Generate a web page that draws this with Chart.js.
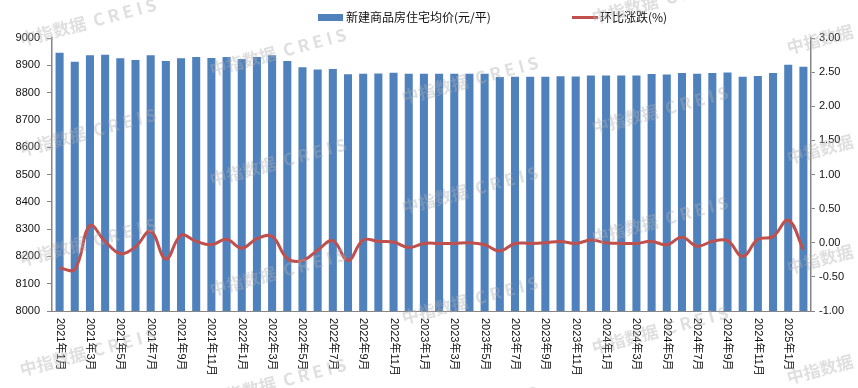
<!DOCTYPE html>
<html>
<head>
<meta charset="utf-8">
<script src="https://cdn.jsdelivr.net/npm/chart.js@4.4.1/dist/chart.umd.min.js"></script>
<style>
  html, body { margin: 0; padding: 0; background: #fff; }
  #wrap { width: 858px; height: 388px; }
</style>
</head>
<body>
<div id="wrap"><canvas id="mychart" width="858" height="388"></canvas></div>
<script>
var months = [
  "2021年1月", "2021年2月", "2021年3月", "2021年4月", "2021年5月", "2021年6月",
  "2021年7月", "2021年8月", "2021年9月", "2021年10月", "2021年11月", "2021年12月",
  "2022年1月", "2022年2月", "2022年3月", "2022年4月", "2022年5月", "2022年6月",
  "2022年7月", "2022年8月", "2022年9月", "2022年10月", "2022年11月", "2022年12月",
  "2023年1月", "2023年2月", "2023年3月", "2023年4月", "2023年5月", "2023年6月",
  "2023年7月", "2023年8月", "2023年9月", "2023年10月", "2023年11月", "2023年12月",
  "2024年1月", "2024年2月", "2024年3月", "2024年4月", "2024年5月", "2024年6月",
  "2024年7月", "2024年8月", "2024年9月", "2024年10月", "2024年11月", "2024年12月",
  "2025年1月", "2025年2月"
];
// 新建商品房住宅均价(元/平)
var avgPrice = [
  8946, 8913, 8937, 8939, 8926, 8919, 8937, 8916, 8926, 8930,
  8927, 8930, 8923, 8930, 8937, 8916, 8893, 8885, 8886, 8867,
  8869, 8870, 8873, 8869, 8869, 8869, 8869, 8869, 8869, 8857,
  8858, 8858, 8858, 8860, 8859, 8863, 8863, 8863, 8863, 8868,
  8866, 8872, 8869, 8872, 8874, 8858, 8861, 8872, 8902, 8895
];
// 环比涨跌(%)
var momChange = [
  -0.37, -0.39, 0.25, 0.02, -0.16, -0.06, 0.17, -0.24, 0.11, 0.02,
  -0.03, 0.05, -0.08, 0.06, 0.09, -0.23, -0.26, -0.11, 0.03, -0.26,
  0.04, 0.02, 0.01, -0.07, -0.01, -0.01, -0.01, 0.00, -0.03, -0.12,
  -0.01, -0.01, 0.00, 0.02, -0.01, 0.04, 0.00, -0.01, -0.01, 0.02,
  -0.03, 0.08, -0.05, 0.02, 0.03, -0.20, 0.05, 0.09, 0.33, -0.10
];
var priceTicks = [8000, 8100, 8200, 8300, 8400, 8500, 8600, 8700, 8800, 8900, 9000];
var changeTicks = [-1.00, -0.50, 0.00, 0.50, 1.00, 1.50, 2.00, 2.50, 3.00];

var tickFont = { family: '"Liberation Sans", "Noto Sans CJK SC"', size: 11 };

// x labels rotated clockwise, legend and watermark
var extras = {
  id: 'extras',
  afterDraw: function (chart) {
    var ctx = chart.ctx, xs = chart.scales.x, area = chart.chartArea;
    var ds = chart.data.datasets;
    ctx.save();
    ctx.fillStyle = '#111';
    ctx.font = '11px "Liberation Sans", "Noto Sans CJK SC"';
    ctx.textAlign = 'left';
    ctx.textBaseline = 'middle';
    for (var i = 0; i < months.length; i += 2) {
      ctx.save();
      ctx.translate(xs.getPixelForValue(i), area.bottom + 7);
      ctx.rotate(Math.PI / 2);
      ctx.fillText(months[i], 0, 0);
      ctx.restore();
    }

    // legend
    ctx.font = '12px "Noto Sans CJK SC"';
    ctx.fillStyle = ds[0].backgroundColor;
    ctx.fillRect(318, 14, 25, 7);
    ctx.fillStyle = '#111';
    ctx.fillText(ds[0].label, 346, 17.5);
    ctx.strokeStyle = ds[1].borderColor;
    ctx.lineWidth = 3;
    ctx.beginPath();
    ctx.moveTo(572, 17.5);
    ctx.lineTo(598, 17.5);
    ctx.stroke();
    ctx.fillText(ds[1].label, 600, 17.5);

    // watermark
    var cols = [[88, 22], [278, 52], [470, 80], [660, 0], [855, 30]];
    ctx.font = 'bold 17px "Noto Sans CJK SC"';
    ctx.fillStyle = 'rgba(175,175,175,0.4)';
    ctx.textAlign = 'center';
    for (var c = 0; c < cols.length; c++) {
      for (var r = -1; r < 4; r++) {
        ctx.save();
        ctx.translate(cols[c][0], cols[c][1] + r * 110);
        ctx.rotate(-0.26);
        ctx.fillText('中指数据  C R E I S', 0, 0);
        ctx.restore();
      }
    }
    ctx.restore();
  }
};

var ctx = document.getElementById("mychart");
var myChart = new Chart(ctx, {
  data: {
    labels: months,
    datasets: [
      {
        type: 'bar',
        label: '新建商品房住宅均价(元/平)',
        data: avgPrice,
        yAxisID: 'y',
        backgroundColor: '#4F81BD',
        barPercentage: 0.53,
        categoryPercentage: 1,
        order: 2
      },
      {
        type: 'line',
        label: '环比涨跌(%)',
        data: momChange,
        yAxisID: 'y1',
        borderColor: '#C0504D',
        backgroundColor: '#C0504D',
        borderWidth: 3,
        pointRadius: 0,
        tension: 0.4,
        order: 1
      }
    ]
  },
  options: {
    responsive: false,
    animation: false,
    layout: { padding: { top: 38, left: 0, right: 0, bottom: 0 } },
    plugins: {
      legend: { display: false },
      tooltip: { enabled: false }
    },
    scales: {
      x: {
        offset: true,
        grid: { display: false },
        border: { display: true, color: '#868686', width: 1 },
        ticks: { display: false },
        afterFit: function (s) { s.height = 77; }
      },
      y: {
        position: 'left',
        min: 8000,
        max: 9000,
        afterBuildTicks: function (s) { s.ticks = priceTicks.map(function (v) { return { value: v }; }); },
        grid: { display: true, drawOnChartArea: false, drawTicks: true, tickLength: 5, color: '#868686' },
        border: { display: true, color: '#868686', width: 1.5 },
        ticks: {
          font: tickFont, color: '#111', padding: 7,
          callback: function (v) { return String(v); }
        },
        afterFit: function (s) { s.width = 52; }
      },
      y1: {
        position: 'right',
        min: -1,
        max: 3,
        afterBuildTicks: function (s) { s.ticks = changeTicks.map(function (v) { return { value: v }; }); },
        grid: { display: true, drawOnChartArea: false, drawTicks: true, tickLength: 4, color: '#868686' },
        border: { display: true, color: '#868686', width: 1.5 },
        ticks: {
          font: tickFont, color: '#111', padding: 4,
          callback: function (v) { return Number(v).toFixed(2); }
        },
        afterFit: function (s) { s.width = 47; }
      }
    }
  },
  plugins: [extras]
});
</script>
</body>
</html>
